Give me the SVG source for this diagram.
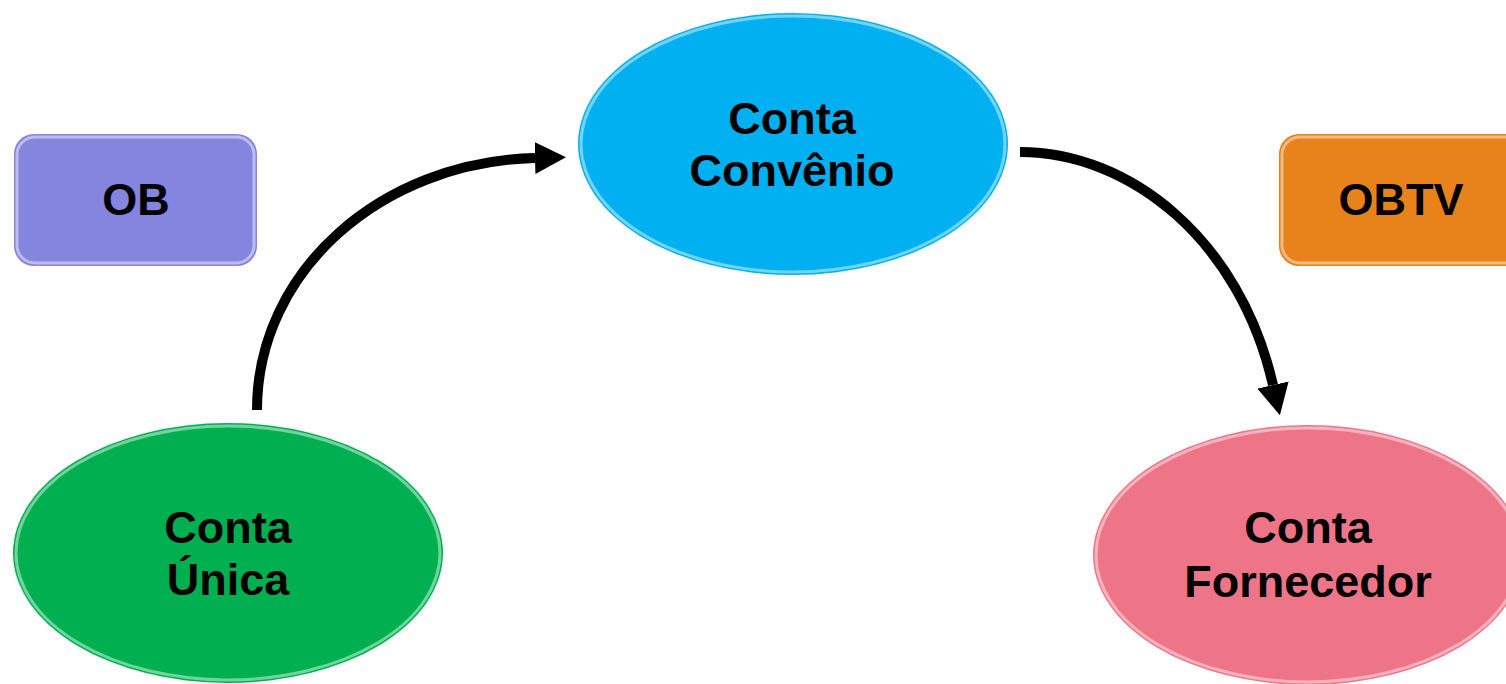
<svg xmlns="http://www.w3.org/2000/svg" width="1506" height="684" viewBox="0 0 1506 684">
<style>
.lbl{font-family:"Liberation Sans",Arial,sans-serif;font-weight:bold;font-size:45px;fill:#000;text-anchor:middle}
.gloss{fill:none;stroke:#ffffff;stroke-opacity:0.45;stroke-width:3}
.conn{fill:none;stroke:#000;stroke-width:10}
</style>
<defs>
<marker id="ah" markerUnits="userSpaceOnUse" viewBox="0 -16 31 32" refX="0" refY="0" markerWidth="31" markerHeight="32" orient="auto">
<path d="M0,-16 L31,0 L0,16 Z" fill="#000"/>
</marker>
</defs>
<rect width="1506" height="684" fill="#fff"/>
<g id="node-ob">
<rect x="14" y="134" width="243" height="132" rx="20" fill="#8585E0"/>
<rect x="17" y="137" width="237" height="126" rx="18" class="gloss"/>
<text class="lbl" x="136" y="215" font-size="44">OB</text>
</g>
<g id="node-obtv">
<rect x="1279" y="134" width="250" height="132" rx="20" fill="#E8821A"/>
<rect x="1282" y="137" width="244" height="126" rx="18" class="gloss"/>
<text class="lbl" x="1401" y="215" font-size="44">OBTV</text>
</g>
<g id="node-convenio">
<ellipse cx="793" cy="144" rx="215" ry="131" fill="#00B0F0"/>
<ellipse cx="793" cy="144" rx="212" ry="128" class="gloss"/>
<text class="lbl" x="792" y="134">Conta</text>
<text class="lbl" x="792" y="186">Convênio</text>
</g>
<g id="node-unica">
<ellipse cx="228" cy="553" rx="215" ry="130" fill="#00B050"/>
<ellipse cx="228" cy="553" rx="212" ry="127" class="gloss"/>
<text class="lbl" x="228" y="543">Conta</text>
<text class="lbl" x="228" y="595">Única</text>
</g>
<g id="node-fornecedor">
<ellipse cx="1308" cy="555" rx="215" ry="130" fill="#EE7587"/>
<ellipse cx="1308" cy="555" rx="212" ry="127" class="gloss"/>
<text class="lbl" x="1308" y="543">Conta</text>
<text class="lbl" x="1308" y="597">Fornecedor</text>
</g>
<g id="connectors">
<path class="conn" d="M257,410 C257,271 381,162 535,158" marker-end="url(#ah)"/>
<path class="conn" d="M1020,152 C1130,152 1240,240 1273,385" marker-end="url(#ah)"/>
</g>
</svg>
